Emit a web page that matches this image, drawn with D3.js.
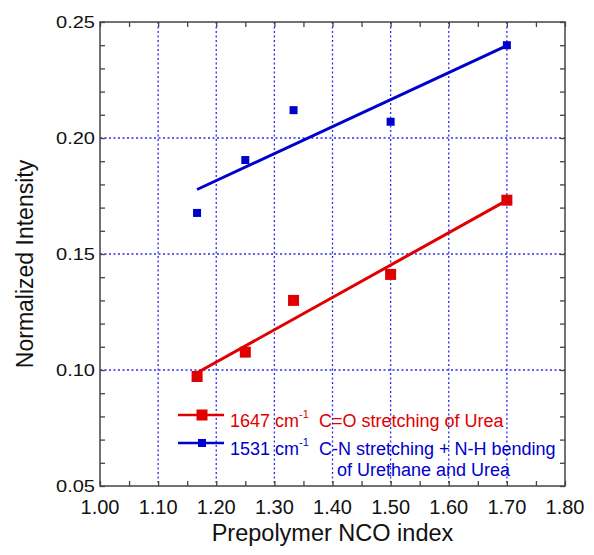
<!DOCTYPE html>
<html>
<head>
<meta charset="utf-8">
<script src="https://cdn.jsdelivr.net/npm/d3@7"></script>
<style>
  body { margin: 0; background: #fff; }
  text { font-family: Arial, "Liberation Sans", sans-serif; }
</style>
</head>
<body>
<script>
// data
const nco = [1.167, 1.25, 1.333, 1.5, 1.7];
const band1647 = [0.0972, 0.1077, 0.1300, 0.1412, 0.1732];
const band1531 = [0.1677, 0.1905, 0.2120, 0.2070, 0.2400];
// fitted lines (end points)
const fitNco = [1.167, 1.7];
const fit1647 = [0.0988, 0.1731];
const fit1531 = [0.1778, 0.2398];

const xLabels = ["1.00", "1.10", "1.20", "1.30", "1.40", "1.50", "1.60", "1.70", "1.80"];
const yLabels = ["0.05", "0.10", "0.15", "0.20", "0.25"];

const W = 594, H = 555;
const m = {left: 100, top: 22, right: 29, bottom: 69};
const red = "#e00000", blue = "#0000cc";

const svg = d3.select("body").append("svg")
  .attr("width", W).attr("height", H);

const x = d3.scaleLinear().domain([1.0, 1.8]).range([m.left, W - m.right]);
const y = d3.scaleLinear().domain([0.05, 0.25]).range([H - m.bottom, m.top]);

const xMajor = xLabels.map(Number);
const yMajor = yLabels.map(Number);
const xMinor = d3.range(0, 17).map(i => 1 + i * 0.05);
const yMinor = d3.range(0, 21).map(i => 0.05 + i * 0.01);

// grid
svg.append("g").selectAll("line").data(xMajor.slice(1, -1)).join("line")
  .attr("x1", d => x(d)).attr("x2", d => x(d))
  .attr("y1", y(0.25)).attr("y2", y(0.05))
  .attr("stroke", "#2b2bf5").attr("stroke-width", 1.3).attr("stroke-dasharray", "2,2.5");
svg.append("g").selectAll("line").data(yMajor.slice(1, -1)).join("line")
  .attr("y1", d => y(d)).attr("y2", d => y(d))
  .attr("x1", x(1.0)).attr("x2", x(1.8))
  .attr("stroke", "#2b2bf5").attr("stroke-width", 1.3).attr("stroke-dasharray", "2,2.5");

// axes, ticks pointing inward
const tick = 5;
const axisCol = "#444";
function styleAxis(g) {
  g.select(".domain").remove();
  g.selectAll(".tick line").attr("stroke", axisCol).attr("stroke-width", 1.3);
}
svg.append("g").attr("transform", `translate(0,${y(0.05)})`)
  .call(d3.axisBottom(x).tickValues(xMinor).tickSize(-tick).tickFormat(""))
  .call(styleAxis);
svg.append("g").attr("transform", `translate(0,${y(0.25)})`)
  .call(d3.axisTop(x).tickValues(xMinor).tickSize(-tick).tickFormat(""))
  .call(styleAxis);
svg.append("g").attr("transform", `translate(${x(1.0)},0)`)
  .call(d3.axisLeft(y).tickValues(yMinor).tickSize(-tick).tickFormat(""))
  .call(styleAxis);
svg.append("g").attr("transform", `translate(${x(1.8)},0)`)
  .call(d3.axisRight(y).tickValues(yMinor).tickSize(-tick).tickFormat(""))
  .call(styleAxis);

svg.append("rect")
  .attr("x", x(1.0)).attr("y", y(0.25))
  .attr("width", x(1.8) - x(1.0)).attr("height", y(0.05) - y(0.25))
  .attr("fill", "none").attr("stroke", axisCol).attr("stroke-width", 1.5);

// tick labels
svg.append("g").selectAll("text").data(xLabels).join("text")
  .attr("x", d => x(+d)).attr("y", 513.5)
  .attr("text-anchor", "middle").attr("font-size", 20).attr("fill", "#111")
  .text(d => d);
svg.append("g").selectAll("text").data(yLabels).join("text")
  .attr("x", x(1.0) - 5).attr("y", d => y(+d) + 6)
  .attr("text-anchor", "end").attr("font-size", 17).attr("fill", "#111")
  .attr("textLength", 39).attr("lengthAdjust", "spacingAndGlyphs")
  .text(d => d);

// axis titles
svg.append("text")
  .attr("x", (x(1.0) + x(1.8)) / 2).attr("y", 541)
  .attr("text-anchor", "middle").attr("font-size", 23.5).attr("fill", "#111")
  .text("Prepolymer NCO index");
svg.append("text")
  .attr("transform", `translate(33,264) rotate(-90)`)
  .attr("text-anchor", "middle").attr("font-size", 23).attr("fill", "#111")
  .text("Normalized Intensity");

// fit lines
const line = d3.line().x(d => x(d[0])).y(d => y(d[1]));
svg.append("path").datum(d3.zip(fitNco, fit1647))
  .attr("d", line).attr("fill", "none").attr("stroke", red).attr("stroke-width", 3);
svg.append("path").datum(d3.zip(fitNco, fit1531))
  .attr("d", line).attr("fill", "none").attr("stroke", blue).attr("stroke-width", 3);

// markers
function squares(vals, col, s) {
  svg.append("g").selectAll("rect").data(d3.zip(nco, vals)).join("rect")
    .attr("x", d => x(d[0]) - s / 2).attr("y", d => y(d[1]) - s / 2)
    .attr("width", s).attr("height", s).attr("fill", col);
}
squares(band1647, red, 11);
squares(band1531, blue, 8);

// legend
function legendRow(ly, col, s, num, label) {
  svg.append("line").attr("x1", 178).attr("x2", 224).attr("y1", ly).attr("y2", ly)
    .attr("stroke", col).attr("stroke-width", 2.5);
  svg.append("rect").attr("x", 202 - s / 2).attr("y", ly - s / 2)
    .attr("width", s).attr("height", s).attr("fill", col);
  const t = svg.append("text").attr("x", 230).attr("y", ly + 12)
    .attr("font-size", 18).attr("fill", col);
  t.append("tspan").text(num + " cm");
  t.append("tspan").attr("dy", -9).attr("font-size", 11).text("-1");
  t.append("tspan").attr("x", 319).attr("dy", 9).text(label);
}
legendRow(415, red, 11, "1647", "C=O stretching of Urea");
legendRow(443, blue, 8, "1531", "C-N stretching + N-H bending");
svg.append("text").attr("x", 337).attr("y", 476)
  .attr("font-size", 18).attr("fill", blue).text("of Urethane and Urea");
</script>
</body>
</html>
